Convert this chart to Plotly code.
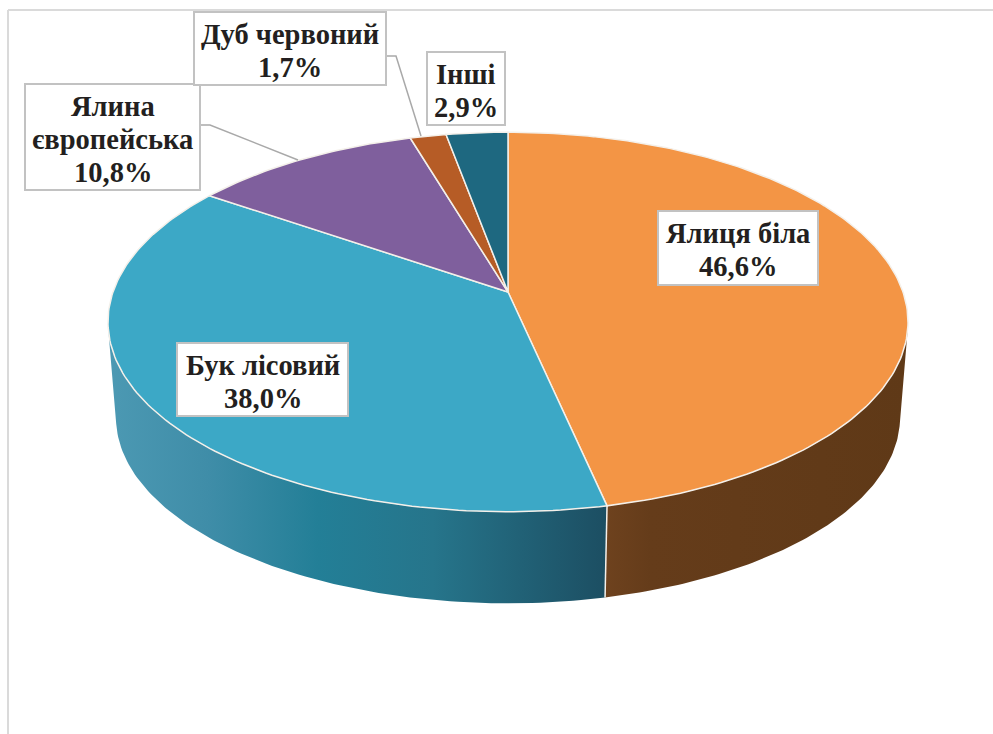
import numpy as np
import plotly.graph_objects as go

species = ["Ялиця біла", "Бук лісовий", "Ялина<br>європейська", "Дуб червоний", "Інші"]
shares = [46.6, 38.0, 10.8, 1.7, 2.9]
top_colors = ["#F39545", "#3CA8C6", "#7F5F9D", "#B65C26", "#1E6880"]

# Perspective model of the tilted disc (screen pixels)
CX, CY, R, S, K = 508.0, 292.0, 395.0, 185.0, 0.158
CY_LOW, F_LOW = 388.0, 0.98
EDGE = "#F4F0EA"
LINE_STEP, TEXT_SHIFT = 33.0, 2.0


def project(theta, low=False):
    u, v = np.sin(theta), np.cos(theta)
    w = 1 + K * v
    f = F_LOW if low else 1.0
    y0 = CY_LOW if low else CY
    return CX + f * R * u / w, y0 - f * S * v / w


def wall(t0, t1):
    t = np.linspace(t0, t1, 90)
    xa, ya = project(t)
    xb, yb = project(t[::-1], low=True)
    return np.r_[xa, xb, xa[0]], np.r_[ya, yb, ya[0]]


cum = np.cumsum([0] + shares) / sum(shares) * 2 * np.pi
fig = go.Figure()

# Side walls: only orange and blue slices reach the visible front
brown_scale = [[0, "#6E421E"], [0.15, "#653C1A"], [1, "#5F3917"]]
blue_scale = [[0, "#4C99B3"], [0.2, "#3F8DA8"], [0.42, "#237F97"], [0.65, "#26758B"], [1, "#1C4E62"]]
VISIBLE_START, VISIBLE_END = np.radians(101), np.radians(259)

x, y = wall(VISIBLE_START, cum[1])
fig.add_trace(go.Scatter(x=x, y=y, mode="lines", line=dict(width=0), fill="toself",
                         fillgradient=dict(type="horizontal", colorscale=brown_scale),
                         hoverinfo="skip"))
x, y = wall(cum[1], VISIBLE_END)
fig.add_trace(go.Scatter(x=x, y=y, mode="lines", line=dict(width=0), fill="toself",
                         fillgradient=dict(type="horizontal", colorscale=blue_scale),
                         hoverinfo="skip"))

# Vertical seam between the two walls
sx0, sy0 = project(cum[1])
sx1, sy1 = project(cum[1], low=True)
fig.add_trace(go.Scatter(x=[sx0, sx1], y=[sy0, sy1], mode="lines",
                         line=dict(color=EDGE, width=1.5), hoverinfo="skip"))

# Top face slices
for i, col in enumerate(top_colors):
    t = np.linspace(cum[i], cum[i + 1], max(6, int((cum[i + 1] - cum[i]) * 60)))
    px, py = project(t)
    xs = np.r_[CX, px, CX]
    ys = np.r_[CY, py, CY]
    fig.add_trace(go.Scatter(x=xs, y=ys, mode="lines", fill="toself", fillcolor=col,
                             line=dict(color=EDGE, width=1.5), hoverinfo="skip"))

# Label boxes: x0, y0, x1, y1, in the order of the species list
boxes = [(658, 211, 818, 285), (177, 343, 348, 416), (25, 84, 200, 190),
         (194, 12, 386, 85), (427, 52, 505, 125)]
BOX_LINE = "#C2C2C2"
shapes = [
    dict(type="line", x0=8, x1=993, y0=10, y1=10, line=dict(color="#DADADA", width=2)),
    dict(type="line", x0=8, x1=8, y0=10, y1=734, line=dict(color="#DADADA", width=2)),
    dict(type="path", path="M200,125 L210,125 L298,160", line=dict(color="#A9A9A9", width=1.5)),
    dict(type="path", path="M386,56 L396,56 L421,136", line=dict(color="#A9A9A9", width=1.5)),
]
annotations = []
for name, val, (x0, y0, x1, y1) in zip(species, shares, boxes):
    shapes.append(dict(type="rect", x0=x0, x1=x1, y0=y0, y1=y1, fillcolor="white",
                       line=dict(color=BOX_LINE, width=2), layer="above"))
    lines = name.split("<br>") + [f"{val:.1f}".replace(".", ",") + "%"]
    mid = (y0 + y1) / 2 + TEXT_SHIFT
    for j, line in enumerate(lines):
        annotations.append(dict(x=(x0 + x1) / 2, y=mid + (j - (len(lines) - 1) / 2) * LINE_STEP,
                                xref="x", yref="y", showarrow=False, text="<b>%s</b>" % line,
                                font=dict(family="Liberation Serif", size=28.5, color="#231F20"),
                                align="center"))

fig.update_layout(
    width=993, height=734, margin=dict(l=0, r=0, t=0, b=0),
    paper_bgcolor="white", plot_bgcolor="white", showlegend=False,
    xaxis=dict(range=[0, 993], visible=False, fixedrange=True),
    yaxis=dict(range=[734, 0], visible=False, fixedrange=True),
    shapes=shapes, annotations=annotations,
)
fig.write_html("out.html", config=dict(displayModeBar=False),
               post_script="document.body.style.margin='0';document.documentElement.style.overflow='hidden';")
